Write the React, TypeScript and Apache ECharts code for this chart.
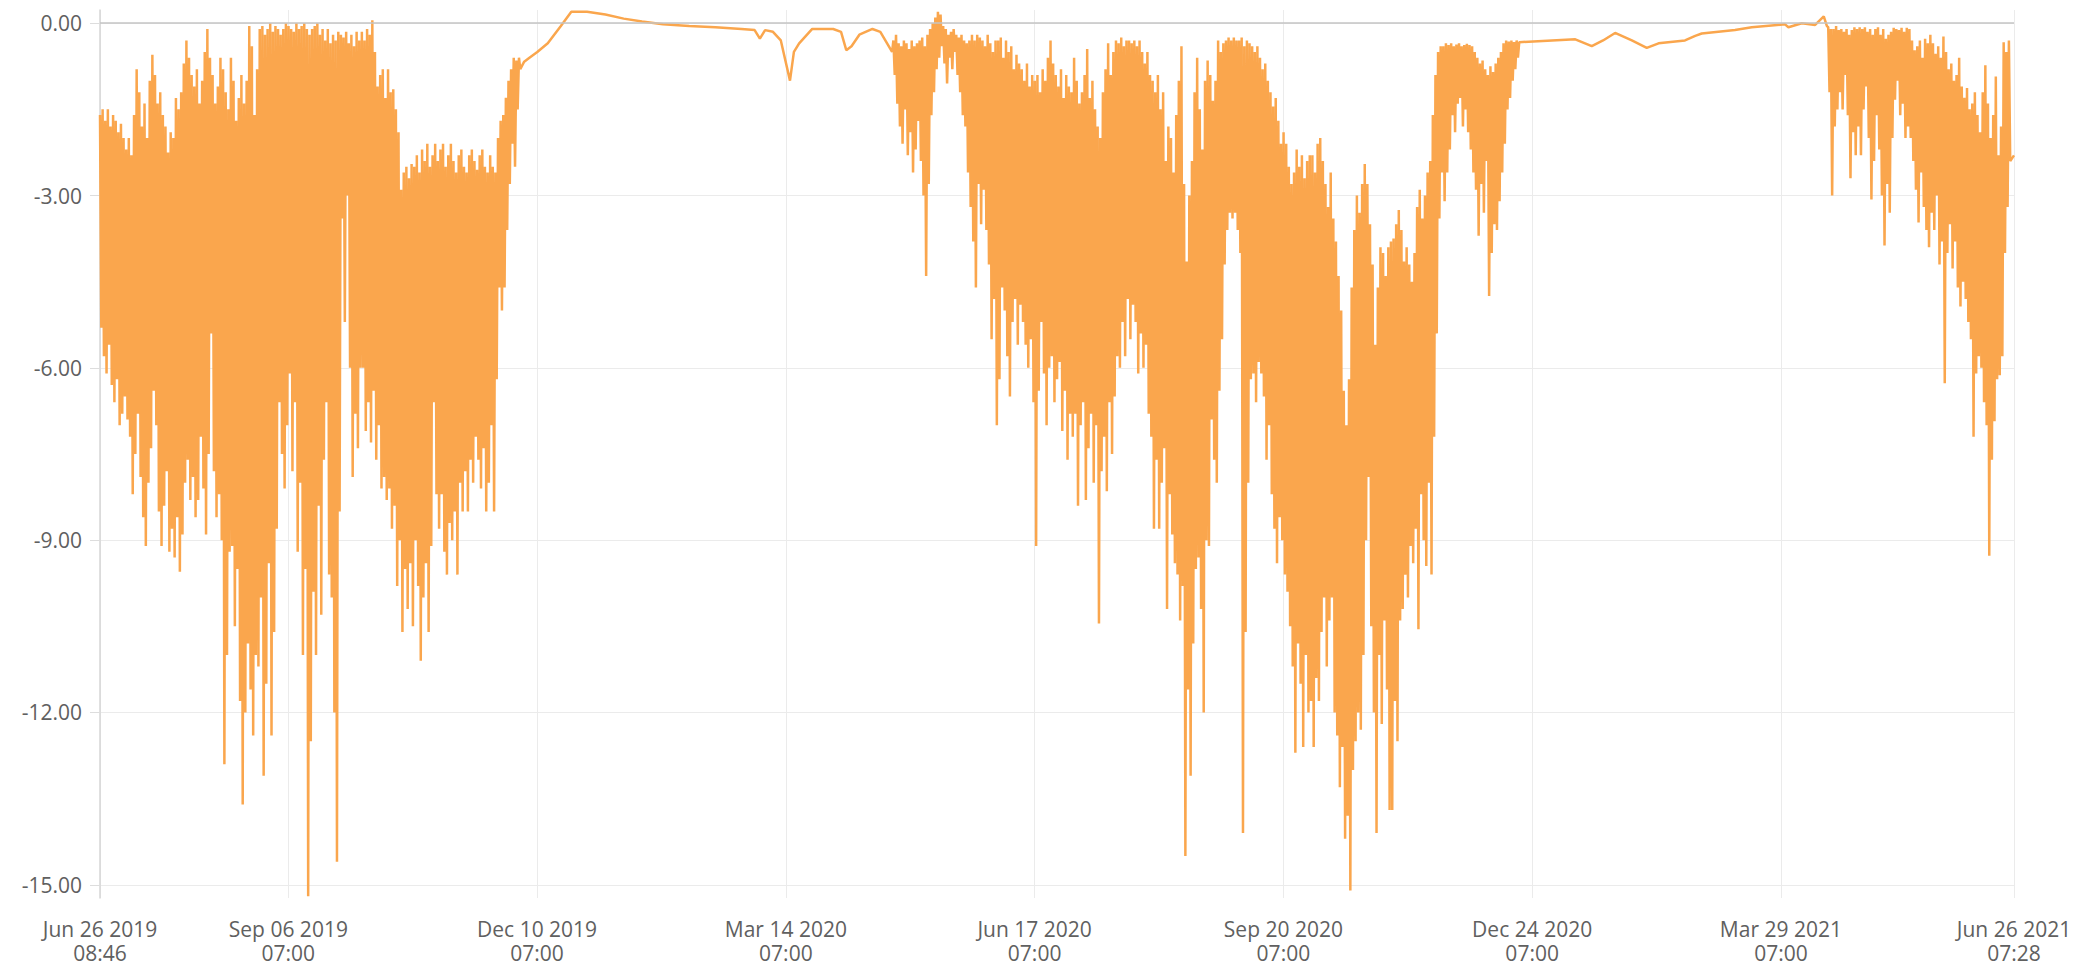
import React, { useEffect, useRef } from "react";
import * as echarts from "echarts";

const START_TS = Date.UTC(2019, 5, 26, 8, 46);
const END_TS = Date.UTC(2021, 5, 26, 7, 28);
const DAY = 86400000;
const END_VALUE = -2.3;

const xTickTimes = [
  START_TS,
  Date.UTC(2019, 8, 6, 7, 0),
  Date.UTC(2019, 11, 10, 7, 0),
  Date.UTC(2020, 2, 14, 7, 0),
  Date.UTC(2020, 5, 17, 7, 0),
  Date.UTC(2020, 8, 20, 7, 0),
  Date.UTC(2020, 11, 24, 7, 0),
  Date.UTC(2021, 2, 29, 7, 0),
  END_TS,
];
const yTicks = [-15, -12, -9, -6, -3, 0];

// Segment 1: Jun 26 2019 (day 0) .. day 160 — daily max / min
const seg1Start = 0;
const seg1Highs = [
  -1.6, -1.5, -1.7, -1.5, -1.8, -1.6, -1.7, -1.9, -1.75, -2.0,
  -2.2, -2.0, -2.3, -1.6, -0.8, -1.2, -1.8, -1.4, -2.0, -1.0,
  -0.55, -0.9, -1.4, -1.2, -1.6, -1.8, -2.25, -1.9, -2.0, -1.3,
  -1.5, -1.2, -0.7, -0.3, -0.6, -0.9, -1.1, -0.8, -1.4, -1.0,
  -0.5, -0.1, -0.6, -0.9, -1.4, -1.1, -0.6, -0.8, -1.2, -1.5,
  -0.6, -1.0, -1.7, -1.3, -0.9, -1.4, -1.0, -0.05, -0.4, -1.6,
  -0.8, -0.1, -0.05, -0.2, -0.1, 0.0, -0.15, -0.05, -0.1, -0.2,
  -0.1, 0.0, -0.05, -0.1, -0.15, 0.0, -0.1, -0.05, 0.0, -0.1,
  -0.2, -0.1, -0.05, 0.0, -0.2, -0.1, -0.3, -0.1, -0.35, -0.2,
  -0.3, -0.15, -0.2, -0.25, -0.15, -0.35, -0.2, -0.4, -0.15, -0.3,
  -0.15, -0.3, -0.1, -0.2, 0.05, -0.5, -1.1, -0.9, -0.8, -1.3,
  -0.8, -1.2, -1.15, -1.5, -1.9, -2.9, -2.6, -2.5, -2.7, -2.45,
  -2.5, -2.3, -2.6, -2.2, -2.4, -2.1, -2.5, -2.3, -2.1, -2.4,
  -2.2, -2.1, -2.5, -2.3, -2.1, -2.4, -2.6, -2.3, -2.2, -2.5,
  -2.6, -2.3, -2.2, -2.4, -2.55, -2.3, -2.2, -2.5, -2.6, -2.3,
  -2.5, -2.6, -2.0, -1.7, -1.6, -1.3, -1.0, -0.8, -0.6, -0.65, -0.6,
];
const seg1Lows = [
  -5.3, -5.8, -6.1, -5.6, -6.3, -6.6, -6.2, -7.0, -6.8, -6.5,
  -6.9, -7.2, -8.2, -7.5, -6.8, -7.9, -8.6, -9.1, -8.0, -7.4,
  -6.4, -7.0, -8.5, -9.1, -8.4, -7.8, -9.2, -8.8, -9.3, -8.6,
  -9.55, -8.9, -8.0, -7.6, -8.3, -7.9, -8.6, -8.3, -7.2, -8.1,
  -8.9, -7.5, -5.4, -7.8, -8.6, -8.2, -9.0, -12.9, -11.0, -9.2,
  -9.1, -10.5, -9.5, -11.8, -13.6, -12.0, -10.8, -11.6, -12.4, -11.0,
  -11.2, -10.0, -13.1, -11.5, -9.4, -12.4, -10.6, -8.8, -6.6, -7.5,
  -8.1, -7.0, -6.1, -7.8, -6.6, -9.2, -8.0, -11.0, -9.5, -15.2,
  -12.5, -9.9, -11.0, -8.4, -10.3, -7.6, -6.6, -9.6, -10.0, -12.0,
  -14.6, -8.5, -3.4, -5.2, -3.0, -6.0, -7.9, -6.8, -7.4, -6.0,
  -6.0, -7.1, -6.6, -7.3, -6.4, -7.6, -7.0, -8.1, -7.9, -8.3,
  -8.1, -8.8, -8.4, -9.8, -9.0, -10.6, -9.5, -10.2, -9.4, -10.5,
  -9.0, -9.8, -11.1, -10.0, -9.4, -10.6, -9.1, -6.6, -8.2, -8.8,
  -8.2, -9.2, -9.6, -8.7, -9.0, -8.5, -9.6, -8.0, -8.5, -7.8,
  -8.5, -7.6, -8.0, -7.2, -7.6, -8.1, -7.4, -8.5, -8.0, -7.0,
  -8.5, -6.2, -4.6, -5.0, -4.6, -3.6, -2.8, -2.1, -2.5, -1.5, -0.8,
];

// Quiet winter 2019/20 (day offsets, values)
const flat1Days = [
  162, 164, 167, 171, 176, 180, 186, 193, 200, 207, 215, 225, 235, 245, 250,
  252, 254, 257, 260, 263.5, 265, 267, 272, 280, 283, 285, 287, 290, 295, 298, 302.5,
];
const flat1Values = [
  -0.67, -0.6, -0.5, -0.35, -0.05, 0.2, 0.2, 0.15, 0.08, 0.03, -0.02, -0.05, -0.07, -0.1, -0.12,
  -0.27, -0.12, -0.15, -0.3, -1.0, -0.5, -0.35, -0.1, -0.1, -0.15, -0.47, -0.4, -0.2, -0.1, -0.15, -0.5,
];

// Segment 3: day 303 .. 509 (Apr 2020 – Nov 2020)
const seg3Start = 303;
const seg3Highs = [
  -0.3, -0.2, -0.35, -0.4, -0.3, -0.35, -0.45, -0.3, -0.4, -0.35,
  -0.3, -0.25, -0.4, -0.2, -0.1, 0.0, 0.1, 0.2, 0.15, -0.05,
  -0.1, -0.2, -0.15, -0.1, -0.2, -0.25, -0.2, -0.3, -0.35, -0.3,
  -0.2, -0.3, -0.2, -0.25, -0.3, -0.4, -0.2, -0.35, -0.5, -0.3,
  -0.3, -0.25, -0.6, -0.3, -0.5, -0.4, -0.8, -0.55, -0.7, -0.8,
  -1.0, -0.7, -1.1, -0.9, -1.0, -0.9, -1.2, -0.8, -1.0, -0.6,
  -0.3, -0.7, -0.9, -1.1, -0.8, -1.3, -0.9, -1.1, -1.2, -0.6,
  -1.0, -1.4, -1.2, -0.9, -0.45, -1.3, -1.0, -1.5, -1.8, -2.0,
  -1.2, -0.8, -0.35, -0.9, -0.5, -0.3, -0.35, -0.25, -0.4, -0.3,
  -0.3, -0.35, -0.3, -0.4, -0.3, -0.5, -0.7, -0.5, -0.9, -1.0,
  -1.2, -0.9, -1.5, -1.2, -2.4, -1.8, -2.0, -2.6, -1.6, -1.0,
  -0.4, -2.8, -4.15, -3.0, -2.4, -1.2, -0.6, -1.5, -2.2, -1.0,
  -0.65, -0.9, -1.35, -1.0, -0.3, -0.5, -0.35, -0.3, -0.25, -0.3,
  -0.25, -0.3, -0.3, -0.25, -0.4, -0.3, -0.35, -0.4, -0.5, -0.4,
  -0.6, -0.8, -0.7, -1.0, -1.2, -1.45, -1.3, -1.7, -2.1, -1.9,
  -2.1, -2.5, -2.8, -2.6, -2.2, -2.5, -2.3, -2.7, -2.4, -2.3,
  -2.3, -2.6, -2.1, -2.0, -2.4, -2.8, -3.2, -2.6, -3.4, -3.8,
  -4.4, -5.0, -6.4, -7.0, -6.2, -4.6, -3.6, -3.0, -3.3, -2.8,
  -2.45, -2.8, -3.5, -4.2, -5.6, -4.6, -3.9, -4.0, -4.4, -3.9,
  -3.8, -3.75, -3.5, -3.25, -3.6, -4.15, -3.9, -4.2, -4.5, -4.0,
  -3.2, -2.9, -3.4, -3.0, -2.6, -2.4, -1.6,
];
const seg3Lows = [
  -0.9, -1.4, -1.8, -2.1, -1.5, -2.3, -1.9, -2.6, -2.2, -1.7,
  -2.4, -3.0, -4.4, -2.8, -1.6, -1.2, -0.8, -0.6, -0.4, -0.7,
  -1.05, -0.6, -0.8, -0.5, -0.9, -1.2, -1.6, -1.8, -2.6, -3.2,
  -3.8, -4.6, -2.8, -3.5, -2.9, -3.6, -4.2, -5.5, -4.8, -7.0,
  -6.2, -4.6, -5.0, -5.8, -6.5, -5.2, -4.8, -5.6, -4.9, -5.2,
  -5.6, -6.0, -5.5, -6.6, -9.1, -6.4, -5.2, -6.1, -7.0, -6.0,
  -5.8, -6.6, -6.2, -5.9, -7.1, -6.4, -7.6, -6.8, -7.2, -6.8,
  -8.4, -7.0, -6.6, -8.3, -7.4, -6.8, -8.0, -7.0, -10.45, -7.8,
  -7.2, -8.15, -6.6, -7.5, -6.5, -5.8, -6.0, -5.2, -5.8, -4.8,
  -5.5, -4.9, -5.2, -6.1, -5.4, -6.0, -5.6, -6.8, -7.2, -8.8,
  -7.6, -8.8, -8.0, -7.4, -10.2, -8.2, -8.9, -9.4, -9.6, -10.4,
  -9.8, -14.5, -11.6, -13.1, -10.8, -9.5, -9.3, -10.2, -12.0, -9.0,
  -9.1, -6.9, -7.6, -8.0, -6.4, -5.5, -4.2, -3.6, -3.3, -3.4,
  -3.3, -3.6, -4.0, -14.1, -10.6, -8.0, -6.2, -6.1, -6.6, -5.9,
  -6.1, -6.5, -7.6, -7.0, -8.2, -8.8, -9.4, -8.6, -9.0, -9.6,
  -9.9, -10.5, -11.2, -12.7, -10.8, -11.5, -12.6, -11.0, -12.0, -11.8,
  -12.6, -11.4, -11.8, -10.6, -10.0, -11.2, -10.4, -10.0, -12.0, -12.4,
  -13.3, -12.6, -14.2, -13.8, -15.1, -13.0, -12.5, -12.0, -12.3, -11.0,
  -9.0, -7.9, -10.5, -12.0, -14.1, -11.0, -12.2, -10.4, -11.6, -13.7,
  -13.7, -11.8, -12.5, -10.4, -10.2, -9.6, -10.0, -9.1, -9.4, -8.8,
  -10.55, -8.2, -9.0, -9.45, -8.0, -9.6, -7.2,
];

// Segment 4: day 510 .. 541 (small swings, Nov – Dec 2020)
const seg4Start = 510;
const seg4Highs = [
  -0.9, -0.5, -0.4, -0.4, -0.35, -0.38, -0.35, -0.4, -0.37, -0.35,
  -0.4, -0.38, -0.36, -0.38, -0.4, -0.5, -0.6, -0.7, -0.65, -0.8,
  -0.9, -0.75, -0.85, -0.7, -0.6, -0.5, -0.35, -0.3, -0.32, -0.3,
  -0.33, -0.3,
];
const seg4Lows = [
  -5.4, -3.4, -2.6, -3.1, -2.6, -2.2, -1.6, -1.9, -1.4, -1.3,
  -1.8, -1.5, -1.9, -2.2, -2.6, -2.9, -3.7, -2.8, -3.3, -2.4,
  -4.75, -4.0, -3.5, -3.6, -3.1, -2.6, -2.1, -1.5, -1.3, -1.0,
  -0.8, -0.6,
];

// Quiet winter 2020/21
const flat2Days = [
  542, 554.5, 563.4, 569.7, 574, 578.6, 585, 590.7, 595.2, 605.3,
  609.2, 611.7, 624.4, 630.8, 643.5, 644.8, 649.9, 655, 658.3, 659.5,
];
const flat2Values = [
  -0.33, -0.3, -0.28, -0.4, -0.3, -0.17, -0.3, -0.43, -0.35, -0.3,
  -0.22, -0.18, -0.12, -0.07, -0.02, -0.07, 0.0, -0.03, 0.12, -0.05,
];

// Segment 6: day 660 .. 729 (Apr – Jun 2021)
const seg6Start = 660;
const seg6Highs = [
  -0.07, -0.1, -0.1, -0.05, -0.12, -0.1, -0.15, -0.1, -0.2, -0.12,
  -0.07, -0.1, -0.07, -0.1, -0.07, -0.15, -0.1, -0.2, -0.1, -0.07,
  -0.2, -0.1, -0.27, -0.2, -0.15, -0.08, -0.1, -0.12, -0.08, -0.15,
  -0.08, -0.1, -0.3, -0.47, -0.4, -0.3, -0.6, -0.27, -0.35, -0.2,
  -0.35, -0.53, -0.4, -0.6, -0.23, -0.5, -0.8, -0.7, -1.0, -0.9,
  -0.6, -1.1, -1.3, -1.13, -1.5, -1.4, -1.2, -1.6, -1.9, -1.2,
  -0.73, -1.4, -2.0, -1.6, -0.93, -2.3, -1.8, -0.33, -0.5, -0.3,
];
const seg6Lows = [
  -1.2, -3.0, -1.8, -1.5, -1.2, -1.5, -0.9, -1.6, -2.7, -1.9,
  -2.3, -1.8, -2.3, -1.5, -1.1, -2.0, -3.07, -2.4, -1.6, -2.2,
  -3.0, -3.87, -2.8, -3.3, -2.0, -1.33, -1.0, -1.6, -1.4, -2.0,
  -1.8, -2.0, -2.4, -2.9, -3.47, -2.6, -3.2, -3.6, -3.9, -3.3,
  -3.6, -3.0, -4.2, -3.8, -6.27, -4.0, -3.5, -4.27, -3.8, -4.6,
  -4.93, -4.5, -4.8, -5.2, -5.5, -7.2, -6.1, -5.8, -6.0, -6.6,
  -7.0, -9.27, -7.6, -6.93, -6.2, -6.13, -5.8, -4.0, -3.2, -2.4,
];

const MONTHS = ["Jan", "Feb", "Mar", "Apr", "May", "Jun", "Jul", "Aug", "Sep", "Oct", "Nov", "Dec"];
const pad = (n: number) => (n < 10 ? "0" + n : "" + n);

function buildData(): [number, number][] {
  const out: [number, number][] = [];
  const osc = (start: number, highs: number[], lows: number[]) => {
    for (let i = 0; i < highs.length; i++) {
      out.push([START_TS + (start + i) * DAY, highs[i]]);
      out.push([START_TS + (start + i + 0.5) * DAY, lows[i]]);
    }
  };
  const flat = (days: number[], vals: number[]) => {
    for (let i = 0; i < days.length; i++) out.push([START_TS + days[i] * DAY, vals[i]]);
  };
  osc(seg1Start, seg1Highs, seg1Lows);
  flat(flat1Days, flat1Values);
  osc(seg3Start, seg3Highs, seg3Lows);
  osc(seg4Start, seg4Highs, seg4Lows);
  flat(flat2Days, flat2Values);
  osc(seg6Start, seg6Highs, seg6Lows);
  out.push([END_TS, END_VALUE]);
  return out;
}

const FONT = "'Open Sans', 'Noto Sans', sans-serif";

export default function App() {
  const ref = useRef<HTMLDivElement>(null);
  useEffect(() => {
    if (!ref.current) return;
    const chart = echarts.init(ref.current, undefined, { renderer: "svg" });
    const lineColor = "#faa64d";
    chart.setOption({
      animation: false,
      backgroundColor: "#ffffff",
      grid: { left: 100, right: 84, top: 10, bottom: 70 },
      xAxis: {
        type: "value",
        min: START_TS,
        max: END_TS,
        axisLine: { show: false },
        axisTick: { show: false, customValues: xTickTimes },
        axisLabel: {
          customValues: xTickTimes,
          showMinLabel: true,
          showMaxLabel: true,
          margin: 19,
          fontSize: 21,
          lineHeight: 24,
          color: "#606060",
          fontFamily: FONT,
          formatter: (v: number) => {
            const d = new Date(v);
            return `${MONTHS[d.getUTCMonth()]} ${pad(d.getUTCDate())} ${d.getUTCFullYear()}\n${pad(d.getUTCHours())}:${pad(d.getUTCMinutes())}`;
          },
        },
        splitLine: { show: true, lineStyle: { color: "#ebebeb", width: 1 } },
      },
      yAxis: {
        type: "value",
        min: -15.23,
        max: 0.23,
        axisLine: { show: true, lineStyle: { color: "#d6d6d6", width: 1.5 } },
        axisTick: { show: true, length: 10, customValues: yTicks, lineStyle: { color: "#dddddd" } },
        axisLabel: {
          customValues: yTicks,
          margin: 18,
          fontSize: 21,
          color: "#606060",
          fontFamily: FONT,
          formatter: (v: number) => v.toFixed(2),
        },
        splitLine: { show: true, lineStyle: { color: "#ebebeb", width: 1 } },
      },
      series: [
        {
          type: "line",
          data: buildData(),
          showSymbol: false,
          symbol: "none",
          lineStyle: { width: 2.5, color: lineColor },
          itemStyle: { color: lineColor },
          markLine: {
            silent: true,
            symbol: "none",
            label: { show: false },
            lineStyle: { color: "#c4c4c4", width: 1.5, type: "solid" },
            data: [{ yAxis: 0 }],
          },
        },
      ],
    });
    return () => chart.dispose();
  }, []);
  return (
    <div
      ref={ref}
      style={{ position: "absolute", left: 0, top: 0, width: 2098, height: 968 }}
    />
  );
}
